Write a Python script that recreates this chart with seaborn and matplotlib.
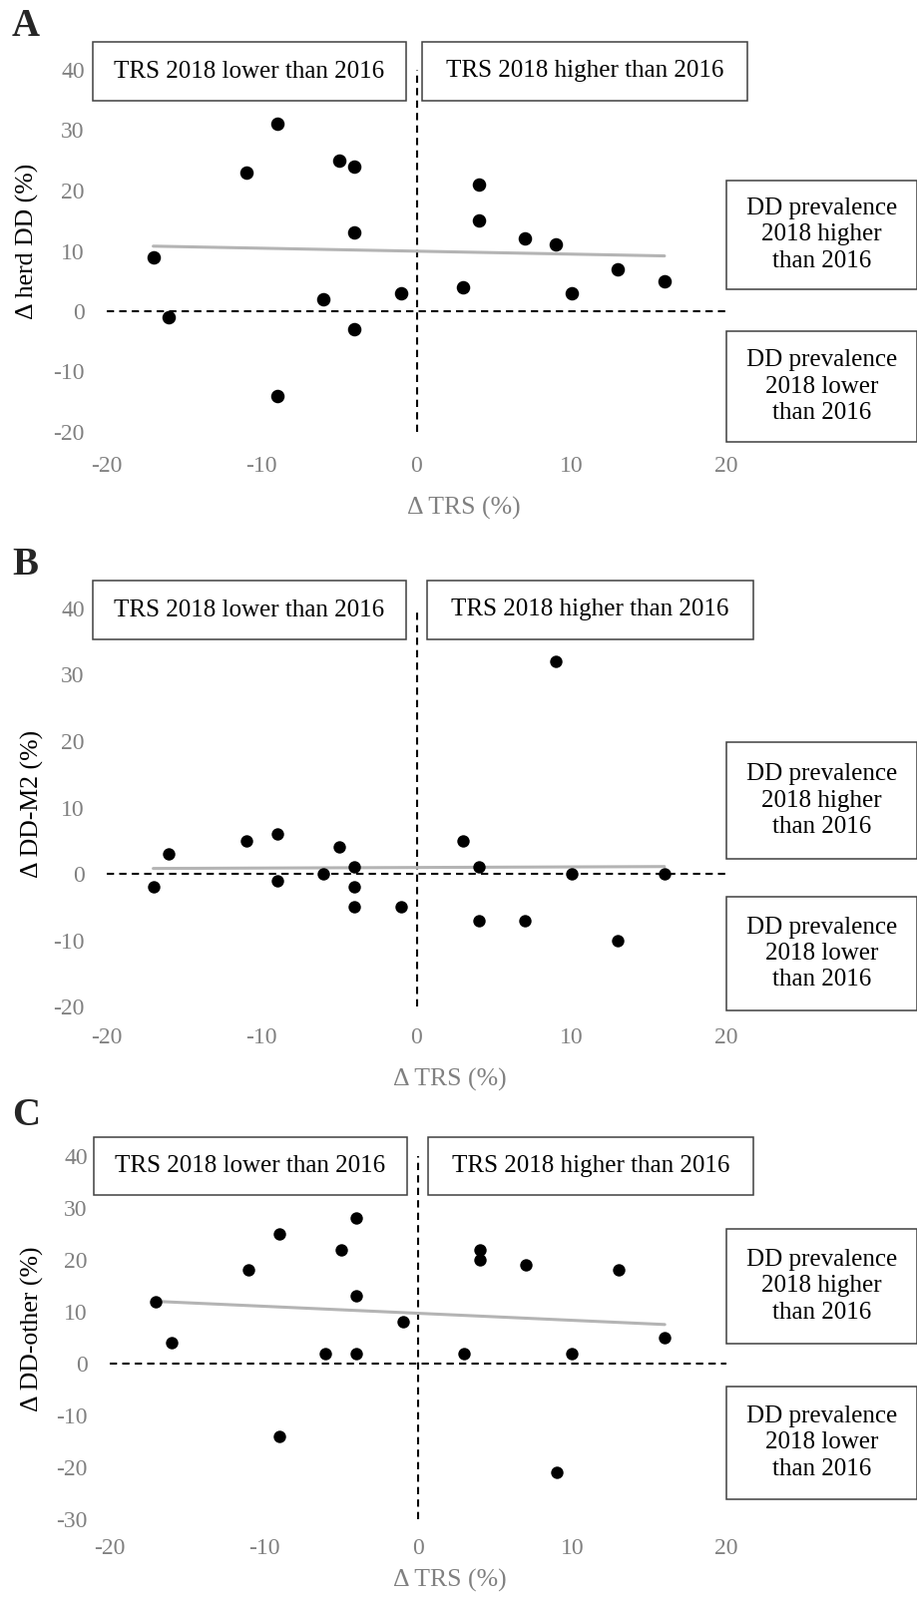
import numpy as np
import pandas as pd
import seaborn as sns
import matplotlib.pyplot as plt
from matplotlib.patches import Rectangle

# change in TRS (x) and change in DD prevalence (y) per herd, one pair per panel
trs_a = [-17, -16, -11, -9, -9, -6, -5, -4, -4, -4, -1, 3, 4, 4, 7, 9, 10, 13, 16]
herd_dd = [9, -1, 23, 31, -14, 2, 25, 24, 13, -3, 3, 4, 21, 15, 12, 11, 3, 7, 5]

trs_b = [-17, -16, -11, -9, -9, -6, -5, -4, -4, -4, -1, 3, 4, 4, 7, 9, 10, 13, 16]
dd_m2 = [-2, 3, 5, 6, -1, 0, 4, 1, -2, -5, -5, 5, 1, -7, -7, 32, 0, -10, 0]

trs_c = [-17, -16, -11, -9, -9, -6, -5, -4, -4, -4, -1, 3, 4, 4, 7, 9, 10, 13, 16]
dd_other = [12, 4, 18, 25, -14, 2, 22, 28, 13, 2, 8, 2, 22, 20, 19, -21, 2, 18, 5]

panel_letters = ['A', 'B', 'C']
y_labels = ['\u0394 herd DD (%)', '\u0394 DD-M2 (%)', '\u0394 DD-other (%)']
x_label = '\u0394 TRS (%)'
x_ticks = [-20, -10, 0, 10, 20]
y_ticks_ab = [-20, -10, 0, 10, 20, 30, 40]
y_ticks_c = [-30, -20, -10, 0, 10, 20, 30, 40]
box_top_left = 'TRS 2018 lower than 2016'
box_top_right = 'TRS 2018 higher than 2016'
box_up = 'DD prevalence\n2018 higher\nthan 2016'
box_down = 'DD prevalence\n2018 lower\nthan 2016'

sns.set_style('white')
plt.rcParams['font.family'] = ['Liberation Serif', 'DejaVu Serif']
plt.rcParams['axes.unicode_minus'] = False

W, H = 920, 1604
fig = plt.figure(figsize=(W / 100, H / 100), dpi=100)


def fx(px):
    return px / W


def fy(py):
    return 1 - py / H


def add_box(x0, y0, x1, y1, text):
    fig.add_artist(Rectangle((fx(x0), fy(y1)), fx(x1 - x0), (y1 - y0) / H,
                             transform=fig.transFigure, fill=False,
                             edgecolor='#404040', lw=1.1))
    fig.text(fx((x0 + x1) / 2), fy((y0 + y1) / 2), text, ha='center',
             va='center', fontsize=18, color='black', linespacing=1.25)


# layout of each panel in pixels
panels = [
    dict(x=trs_a, y=herd_dd, left=107, right=728, top=70, bottom=433,
         ylim=(-20, 40), yticks=y_ticks_ab, s=95, pad=17,
         top_box=(42, 101), lbox=(93, 407), rbox=(423, 749),
         up=(181, 290), down=(332, 443), letter=26, xl=(465, 509), yl=(27, 242)),
    dict(x=trs_b, y=dd_m2, left=107, right=728, top=610, bottom=1009,
         ylim=(-20, 40), yticks=y_ticks_ab, s=80, pad=15,
         top_box=(582, 641), lbox=(93, 407), rbox=(428, 755),
         up=(744, 861), down=(899, 1013), letter=566, xl=(451, 1082), yl=(32, 806)),
    dict(x=trs_c, y=dd_other, left=110, right=728, top=1159, bottom=1523,
         ylim=(-30, 40), yticks=y_ticks_c, s=80, pad=14,
         top_box=(1140, 1198), lbox=(94, 408), rbox=(429, 755),
         up=(1232, 1347), down=(1390, 1503), letter=1119, xl=(451, 1584), yl=(32, 1332)),
]

for i, p in enumerate(panels):
    ax = fig.add_axes([fx(p['left']), fy(p['bottom']),
                       (p['right'] - p['left']) / W, (p['bottom'] - p['top']) / H])
    df = pd.DataFrame({'trs': p['x'], 'dd': p['y']})
    ax.axhline(0, color='black', lw=1.5, ls=(0, (3.5, 2.5)), zorder=1)
    ax.axvline(0, color='black', lw=1.5, ls=(0, (3.5, 2.5)), zorder=1)
    sns.regplot(data=df, x='trs', y='dd', scatter=False, ci=None, truncate=True,
                line_kws=dict(color='#b4b4b4', lw=2.2, zorder=2), ax=ax)
    sns.scatterplot(data=df, x='trs', y='dd', color='black', s=p['s'],
                    edgecolor='black', linewidth=0, zorder=3, ax=ax)
    ax.set_xlim(-20, 20)
    ax.set_ylim(*p['ylim'])
    ax.set_xticks(x_ticks)
    ax.set_yticks(p['yticks'])
    ax.tick_params(axis='x', length=0, pad=p['pad'], labelsize=17, labelcolor='#808080')
    ax.tick_params(axis='y', length=0, pad=16, labelsize=17, labelcolor='#808080')
    ax.set_xlabel('')
    ax.set_ylabel('')
    sns.despine(ax=ax, left=True, bottom=True)
    ax.patch.set_alpha(0)

    fig.text(fx(p['xl'][0]), fy(p['xl'][1]), x_label, ha='center', va='center',
             fontsize=18.5, color='#808080')
    fig.text(fx(p['yl'][0]), fy(p['yl'][1]), y_labels[i], ha='center', va='center',
             fontsize=18.5, color='black', rotation=90)
    fig.text(fx(12), fy(p['letter']), panel_letters[i], ha='left', va='center',
             fontsize=28, fontweight='bold')

    add_box(p['lbox'][0], p['top_box'][0], p['lbox'][1], p['top_box'][1], box_top_left)
    add_box(p['rbox'][0], p['top_box'][0], p['rbox'][1], p['top_box'][1], box_top_right)
    add_box(728, p['up'][0], 919, p['up'][1], box_up)
    add_box(728, p['down'][0], 919, p['down'][1], box_down)

fig.savefig('out.png', dpi=100, facecolor='white')
